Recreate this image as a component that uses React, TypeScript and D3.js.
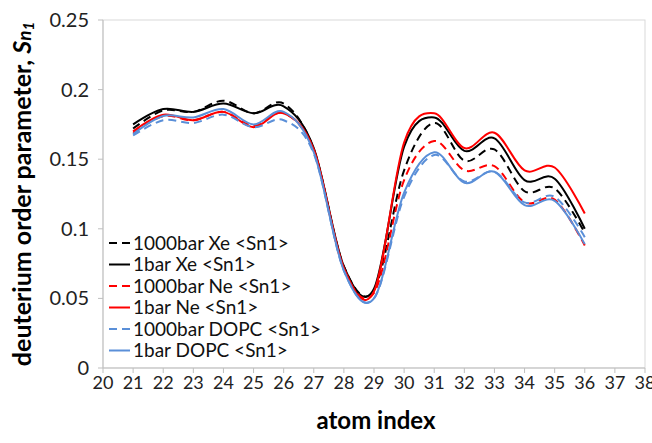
import * as d3 from "d3";

// atom positions along the sn-1 chain
const atomIndex = [21, 22, 23, 24, 25, 26, 27, 28, 29, 30, 31, 32, 33, 34, 35, 36];

// deuterium order parameter per series
const xe1000 = [0.172, 0.185, 0.184, 0.192, 0.183, 0.190, 0.157, 0.073, 0.056, 0.142, 0.176, 0.149, 0.157, 0.127, 0.129, 0.097];
const xe1 = [0.175, 0.186, 0.184, 0.190, 0.183, 0.188, 0.158, 0.073, 0.057, 0.159, 0.180, 0.156, 0.165, 0.135, 0.136, 0.100];
const ne1000 = [0.169, 0.181, 0.178, 0.184, 0.174, 0.183, 0.156, 0.071, 0.054, 0.135, 0.163, 0.142, 0.145, 0.119, 0.121, 0.088];
const ne1 = [0.170, 0.182, 0.178, 0.184, 0.173, 0.183, 0.157, 0.072, 0.055, 0.162, 0.183, 0.158, 0.169, 0.142, 0.144, 0.111];
const dopc1000 = [0.167, 0.178, 0.176, 0.182, 0.173, 0.178, 0.154, 0.070, 0.050, 0.123, 0.153, 0.134, 0.141, 0.119, 0.123, 0.094];
const dopc1 = [0.168, 0.181, 0.180, 0.186, 0.175, 0.184, 0.155, 0.070, 0.050, 0.126, 0.155, 0.133, 0.141, 0.117, 0.120, 0.089];

const seriesNames = [
  "1000bar Xe <Sn1>",
  "1bar Xe <Sn1>",
  "1000bar Ne <Sn1>",
  "1bar Ne <Sn1>",
  "1000bar DOPC <Sn1>",
  "1bar DOPC <Sn1>",
];
const seriesValues = [xe1000, xe1, ne1000, ne1, dopc1000, dopc1];

const xTicks = [20, 21, 22, 23, 24, 25, 26, 27, 28, 29, 30, 31, 32, 33, 34, 35, 36, 37, 38];
const yTicks = [0, 0.05, 0.1, 0.15, 0.2, 0.25];
const yTickLabels = ["0", "0.05", "0.1", "0.15", "0.2", "0.25"];

// styling per series (same order as above)
const colors = ["#000000", "#000000", "#ff0000", "#ff0000", "#5a8fd8", "#5a8fd8"];
const dashed = [true, false, true, false, true, false];

const W = 652;
const H = 443;
const margin = { left: 103, right: 7, top: 20, bottom: 75 };
const FONT = "Lato, 'Open Sans', sans-serif";

export default function App() {
  const x = d3.scaleLinear().domain([20, 38]).range([margin.left, W - margin.right]);
  const y = d3.scaleLinear().domain([0, 0.25]).range([H - margin.bottom, margin.top]);

  const line = d3
    .line<number>()
    .x((_, i) => x(atomIndex[i]))
    .y((d) => y(d))
    .curve(d3.curveCardinal.tension(0));

  const x0 = x(20);
  const x1 = x(38);
  const yBase = y(0);
  const yTop = y(0.25);

  // legend rows, anchored in the lower left of the plot
  const legendX = x0 + 6;
  const legendY0 = 243;
  const legendStep = 21.5;

  return (
    <svg
      width={W}
      height={H}
      style={{ position: "absolute", left: 0, top: 0, background: "#fff" }}
      fontFamily={FONT}
    >
      {/* plot area frame */}
      <rect x={x0} y={yTop} width={x1 - x0} height={yBase - yTop} fill="none" stroke="#d9d9d9" strokeWidth={1} />
      <line x1={x0} x2={x0} y1={yTop} y2={yBase} stroke="#bfbfbf" />
      <line x1={x0} x2={x1} y1={yBase} y2={yBase} stroke="#bfbfbf" />

      {/* y ticks */}
      {yTicks.map((t, i) => (
        <g key={"y" + i}>
          <line x1={x0 - 5} x2={x0} y1={y(t)} y2={y(t)} stroke="#bfbfbf" />
          <text x={x0 - 14} y={y(t)} dy="0.35em" textAnchor="end" fontSize={20} fill="#222">
            {yTickLabels[i]}
          </text>
        </g>
      ))}

      {/* x ticks */}
      {xTicks.map((t) => (
        <g key={"x" + t}>
          <line x1={x(t)} x2={x(t)} y1={yBase} y2={yBase + 5} stroke="#bfbfbf" />
          <text x={x(t)} y={yBase + 21} textAnchor="middle" fontSize={18} fill="#222">
            {t}
          </text>
        </g>
      ))}

      {/* series */}
      {seriesValues.map((vals, i) => (
        <path
          key={"s" + i}
          d={line(vals) ?? undefined}
          fill="none"
          stroke={colors[i]}
          strokeWidth={2}
          strokeDasharray={dashed[i] ? "8,5" : undefined}
        />
      ))}

      {/* legend */}
      {seriesNames.map((name, i) => {
        const ly = legendY0 + i * legendStep;
        return (
          <g key={"l" + i}>
            <line
              x1={legendX}
              x2={legendX + 21}
              y1={ly}
              y2={ly}
              stroke={colors[i]}
              strokeWidth={2}
              strokeDasharray={dashed[i] ? "8,5" : undefined}
            />
            <text x={legendX + 24} y={ly} dy="0.35em" fontSize={19} fill="#111">
              {name}
            </text>
          </g>
        );
      })}

      {/* axis titles */}
      <text
        x={(x0 + x1) / 2 + 2}
        y={429}
        textAnchor="middle"
        fontSize={24}
        fontWeight="bold"
        fill="#000"
      >
        atom index
      </text>
      <text
        transform={`translate(31, ${(yTop + yBase) / 2}) rotate(-90)`}
        textAnchor="middle"
        fontSize={25}
        fontWeight="bold"
        fill="#000"
      >
        deuterium order parameter,{" "}
        <tspan fontStyle="italic">S</tspan>
        <tspan fontStyle="italic" fontSize={19}>n</tspan>
        <tspan fontStyle="italic" fontSize={15} dy={3}>1</tspan>
      </text>
    </svg>
  );
}
